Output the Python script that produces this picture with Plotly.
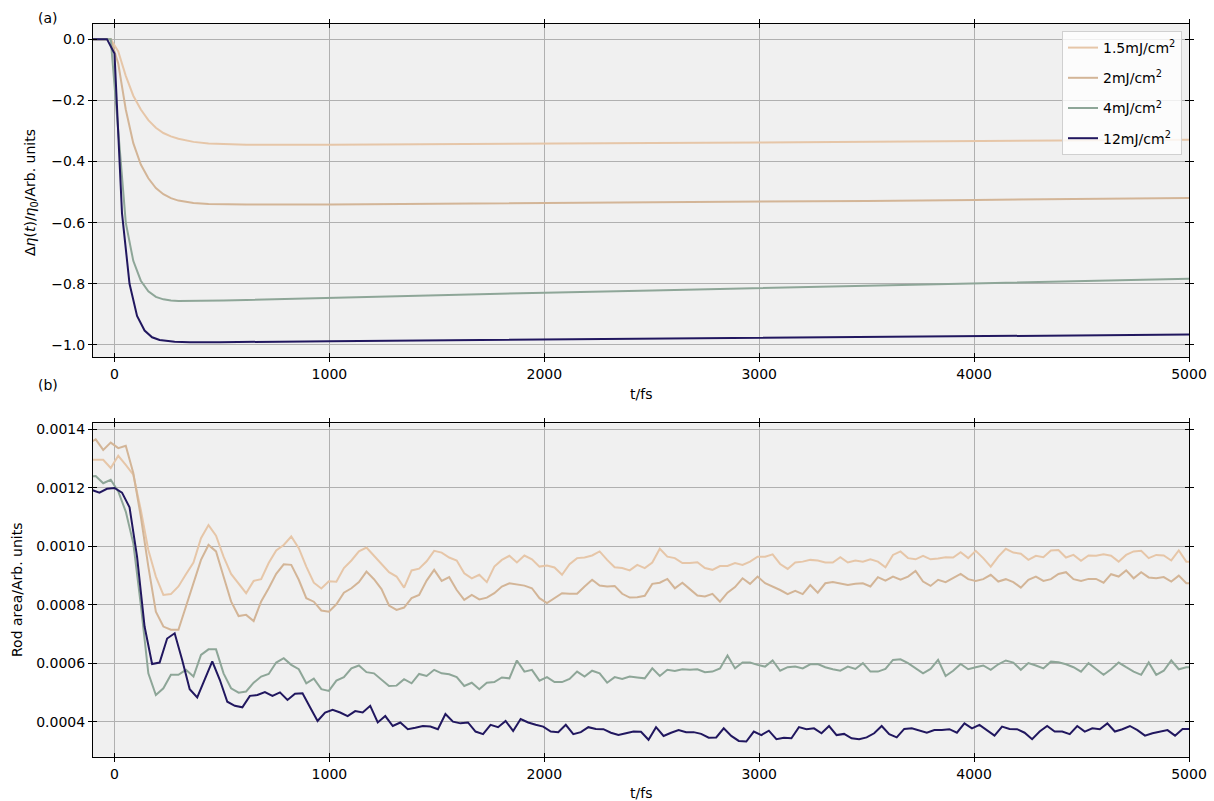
import numpy as np
import plotly.graph_objects as go

# ---------------- panel (a): relative change of eta ----------------
# 12 mJ/cm^2 sampled on the 35 fs grid, the other fluences on the half-shifted grid
t_a12 = [-105, -70, -35, 0, 35, 70, 105, 140, 175, 210, 245, 280, 350, 490,
         1000, 2000, 3000, 4000, 5005]
eta_12 = [0, 0, 0, -0.047, -0.57, -0.80, -0.905, -0.953, -0.975, -0.984, -0.988,
          -0.990, -0.991, -0.991, -0.988, -0.983, -0.977, -0.972, -0.966]

t_a = [-122.5, -87.5, -52.5, -17.5, 17.5, 52.5, 87.5, 122.5, 157.5, 192.5, 227.5,
       262.5, 297.5, 332.5, 367.5, 437.5, 507.5, 612.5, 1002.5, 1502.5, 2002.5,
       2502.5, 3002.5, 3502.5, 4002.5, 4502.5, 5022.5]
eta_15 = [0, 0, 0, 0, -0.04, -0.12, -0.185, -0.23, -0.265, -0.29, -0.307, -0.318,
          -0.326, -0.332, -0.336, -0.341, -0.343, -0.345, -0.345, -0.344, -0.342,
          -0.340, -0.338, -0.336, -0.333, -0.331, -0.329]
eta_2 = [0, 0, 0, 0, -0.08, -0.23, -0.34, -0.41, -0.455, -0.487, -0.507, -0.52,
         -0.528, -0.533, -0.536, -0.539, -0.54, -0.541, -0.541, -0.539, -0.537,
         -0.535, -0.532, -0.529, -0.526, -0.523, -0.519]
eta_4 = [0, 0, 0, 0, -0.30, -0.60, -0.725, -0.79, -0.825, -0.843, -0.851, -0.855,
         -0.856, -0.856, -0.856, -0.856, -0.855, -0.853, -0.846, -0.838, -0.829,
         -0.822, -0.814, -0.807, -0.799, -0.792, -0.783]

# ---------------- panel (b): rod area (values in units of 1e-4) ----------------
t_b12 = np.arange(-3, 144) * 35.0          # frames every 35 fs
t_b = np.arange(-4, 144) * 35.0 + 17.5     # half-frame shifted sampling

area_12 = [
    11.92, 11.83, 11.96, 11.99, 11.83, 11.33, 9.64, 7.25, 5.97, 6.02, 6.84, 7.02, 6.11,
    5.11, 4.83, 5.45, 6.06, 5.43, 4.68, 4.54, 4.49, 4.88, 4.91, 5.01, 4.88, 5.00,
    4.74, 4.95, 4.97, 4.49, 4.02, 4.31, 4.40, 4.31, 4.19, 4.36, 4.31, 4.54, 3.97, 4.19,
    3.85, 3.97, 3.74, 3.79, 3.85, 3.83, 3.74, 4.26, 4.00, 3.94,
    3.97, 3.66, 3.57, 3.89, 3.81, 4.02, 3.68, 4.09, 3.97, 3.89, 3.83, 3.66, 3.64, 3.89,
    3.57, 3.64, 3.81, 3.75, 3.74, 3.62, 3.54, 3.60, 3.66, 3.65, 3.38,
    3.81, 3.51, 3.62, 3.71, 3.64, 3.64, 3.58, 3.45, 3.46, 3.77, 3.51, 3.34, 3.32, 3.66,
    3.54, 3.69, 3.40, 3.45, 3.43, 3.81, 3.74, 3.77, 3.60, 3.85,
    3.54, 3.58, 3.43, 3.40, 3.46, 3.60, 3.85, 3.57, 3.46, 3.75, 3.77, 3.69, 3.62, 3.71,
    3.71, 3.74, 3.62, 3.94, 3.77, 3.89, 3.71, 3.52, 3.83, 3.75, 3.74,
    3.62, 3.40, 3.66, 3.85, 3.66, 3.66, 3.57, 3.85, 3.66, 3.77, 3.74, 3.94, 3.66, 3.74,
    3.85, 3.71, 3.52, 3.60, 3.66, 3.71, 3.52, 3.75, 3.75]

area_4 = [
    12.38, 12.40, 12.15, 12.27, 11.87, 11.18, 10.10, 7.99, 5.65, 4.91,
    5.14, 5.60, 5.60, 5.77, 5.54, 6.28, 6.47, 6.47, 5.65, 5.14, 4.99, 5.03, 5.33, 5.54,
    5.63, 6.02,
    6.17, 5.94, 5.79, 5.31, 5.47, 5.11, 5.05, 5.40, 5.52, 5.82, 5.92, 5.69, 5.65, 5.43,
    5.22, 5.23, 5.45, 5.31, 5.63, 5.56, 5.77, 5.65, 5.62, 5.52,
    5.22, 5.33, 5.11, 5.33, 5.35, 5.51, 5.48, 6.09, 5.71, 5.77, 5.40, 5.52, 5.35, 5.35,
    5.46, 5.71, 5.54, 5.74, 5.65, 5.33, 5.52, 5.46, 5.54, 5.51, 5.48,
    5.82, 5.56, 5.77, 5.73, 5.79, 5.77, 5.79, 5.69, 5.71, 5.82, 6.26, 5.82, 6.02, 6.02,
    5.94, 5.88, 6.09, 5.74, 5.86, 5.88, 5.82, 5.96, 5.97, 5.86, 5.79,
    5.74, 5.88, 5.80, 6.00, 5.71, 5.71, 5.80, 6.11, 6.13, 6.00, 5.82, 5.65, 5.80, 6.11,
    5.56, 5.74, 5.97, 5.79, 5.86, 5.92, 5.77, 5.96, 6.09, 6.02,
    5.77, 6.00, 5.92, 5.82, 6.05, 6.03, 5.96, 5.86, 5.71, 6.00, 5.80, 5.60, 5.79, 6.02,
    5.86, 5.71, 5.60, 6.02, 5.60, 5.74, 6.09, 5.79, 5.86, 5.86]

area_15 = [
    12.95, 12.95, 12.95, 12.67, 13.09, 12.78, 12.44, 11.24, 9.87, 8.96,
    8.33, 8.36, 8.62, 9.04, 9.44, 10.27, 10.72, 10.36, 9.64, 9.05, 8.73, 8.39, 8.81,
    8.87, 9.42, 9.85,
    10.04, 10.33, 9.93, 9.30, 8.75, 8.55, 8.80, 8.78, 9.25, 9.51, 9.82, 9.95, 9.67, 9.39,
    9.11, 8.96, 8.58, 9.17, 9.23, 9.48, 9.84, 9.78, 9.61, 9.51,
    9.07, 8.90, 9.02, 8.77, 9.30, 9.53, 9.67, 9.44, 9.68, 9.55, 9.30, 9.34, 9.27, 9.02,
    9.38, 9.59, 9.61, 9.68, 9.82, 9.53, 9.28, 9.25, 9.17, 9.36, 9.25,
    9.44, 9.91, 9.64, 9.59, 9.42, 9.42, 9.45, 9.25, 9.19, 9.32, 9.32, 9.42, 9.36, 9.47,
    9.64, 9.64, 9.72, 9.39, 9.22, 9.44, 9.47, 9.53, 9.51, 9.44, 9.44,
    9.62, 9.44, 9.51, 9.47, 9.55, 9.47, 9.28, 9.70, 9.82, 9.59, 9.55, 9.67, 9.55, 9.58,
    9.62, 9.61, 9.79, 9.59, 9.84, 9.59, 9.30, 9.64, 9.91, 9.78,
    9.74, 9.53, 9.67, 9.62, 9.85, 9.87, 9.61, 9.70, 9.50, 9.68, 9.67, 9.72, 9.67, 9.47,
    9.70, 9.82, 9.84, 9.59, 9.70, 9.68, 9.51, 9.85, 9.47, 9.47]

area_2 = [
    13.50, 13.65, 13.29, 13.54, 13.35, 13.43, 12.50, 11.01, 9.30, 7.76,
    7.25, 7.14, 7.14, 7.93, 8.73, 9.53, 10.04, 9.82, 8.96, 8.11, 7.61, 7.65, 7.44, 8.11,
    8.56, 9.05,
    9.38, 9.36, 8.85, 8.22, 8.10, 7.80, 7.76, 8.01, 8.41, 8.56, 8.77, 9.13, 8.87, 8.53,
    7.97, 7.82, 7.90, 8.22, 8.33, 8.82, 9.19, 8.81, 8.94, 8.50,
    8.16, 8.33, 8.18, 8.24, 8.39, 8.62, 8.73, 8.68, 8.65, 8.56, 8.22, 8.05, 8.22, 8.39,
    8.37, 8.37, 8.62, 8.85, 8.65, 8.62, 8.64, 8.37, 8.24, 8.25, 8.30,
    8.71, 8.75, 8.88, 8.56, 8.75, 8.53, 8.31, 8.28, 8.37, 8.10, 8.41, 8.60, 8.90, 8.71,
    8.96, 8.73, 8.62, 8.50, 8.36, 8.47, 8.36, 8.67, 8.41, 8.73, 8.77,
    8.73, 8.67, 8.71, 8.73, 8.62, 8.94, 8.82, 8.96, 8.85, 8.96, 9.15, 8.79, 8.64, 8.85,
    8.77, 8.90, 9.05, 8.87, 8.81, 8.87, 9.02, 8.79, 8.87, 8.77,
    8.58, 8.85, 8.96, 8.81, 8.87, 9.05, 9.11, 8.87, 8.81, 8.88, 8.88, 8.75, 9.04, 8.96,
    9.17, 8.90, 9.11, 8.93, 8.90, 8.94, 8.79, 8.99, 8.73, 8.73]

labels = ["1.5mJ/cm<sup>2</sup>", "2mJ/cm<sup>2</sup>", "4mJ/cm<sup>2</sup>", "12mJ/cm<sup>2</sup>"]
colors = ["#e6c6a8", "#d3b597", "#8ea698", "#21175f"]

FONT = "DejaVu Sans"
FS = 14
SCALE = 1e-4

panel_a = [(t_a, eta_15), (t_a, eta_2), (t_a, eta_4), (t_a12, eta_12)]
panel_b = [(t_b, area_15), (t_b, area_2), (t_b, area_4), (t_b12, area_12)]

fig = go.Figure()
for i, (tx, vy) in enumerate(panel_a):
    fig.add_trace(go.Scatter(x=tx, y=vy, mode="lines", name=labels[i],
                             legendgroup=f"g{i}",
                             line=dict(color=colors[i], width=2),
                             xaxis="x", yaxis="y"))
for i, (tx, vy) in enumerate(panel_b):
    fig.add_trace(go.Scatter(x=tx, y=np.array(vy) * SCALE, mode="lines",
                             showlegend=False, line=dict(color=colors[i], width=2),
                             xaxis="x2", yaxis="y2"))
# empty traces that carry the inward tick overlays
fig.add_trace(go.Scatter(x=[None], y=[None], xaxis="x3", yaxis="y3",
                         showlegend=False, hoverinfo="skip"))
fig.add_trace(go.Scatter(x=[None], y=[None], xaxis="x4", yaxis="y4",
                         showlegend=False, hoverinfo="skip"))

XDOM = [93 / 1214, 1189 / 1214]
YDOM_A = [1 - 357 / 801, 1 - 24 / 801]
YDOM_B = [1 - 756.7 / 801, 1 - 423.3 / 801]
XRANGE = [-100, 5000]
YRANGE_A = [-1.0395, 0.0495]
YRANGE_B = [0.00028, 0.00142]
xticks = [0, 1000, 2000, 3000, 4000, 5000]
yticks_a = [-1.0, -0.8, -0.6, -0.4, -0.2, 0.0]
yticks_b = [0.0004, 0.0006, 0.0008, 0.0010, 0.0012, 0.0014]

base = dict(showline=True, linecolor="black", linewidth=1, mirror="allticks",
            ticks="outside", ticklen=4, tickwidth=1, tickcolor="black",
            showgrid=True, gridcolor="#b0b0b0", gridwidth=1, zeroline=False,
            automargin=False,
            tickfont=dict(family=FONT, size=FS, color="black"))
inner = dict(showline=False, mirror="allticks", ticks="inside", ticklen=4,
             tickwidth=1, tickcolor="black", showgrid=False, zeroline=False,
             showticklabels=False, automargin=False)

fig.update_layout(
    width=1214, height=801,
    margin=dict(l=0, r=0, t=0, b=0, autoexpand=False),
    paper_bgcolor="white", plot_bgcolor="#f0f0f0",
    font=dict(family=FONT, size=FS, color="black"),
    xaxis=dict(domain=XDOM, anchor="y", range=XRANGE, tickvals=xticks, tickformat="d", **base),
    yaxis=dict(domain=YDOM_A, anchor="x", range=YRANGE_A, tickvals=yticks_a, tickformat=".1f", **base),
    xaxis2=dict(domain=XDOM, anchor="y2", range=XRANGE, tickvals=xticks, tickformat="d", **base),
    yaxis2=dict(domain=YDOM_B, anchor="x2", range=YRANGE_B, tickvals=yticks_b, tickformat=".4f", **base),
    xaxis3=dict(overlaying="x", anchor="y3", range=XRANGE, tickvals=xticks, **inner),
    yaxis3=dict(overlaying="y", anchor="x3", range=YRANGE_A, tickvals=yticks_a, **inner),
    xaxis4=dict(overlaying="x2", anchor="y4", range=XRANGE, tickvals=xticks, **inner),
    yaxis4=dict(overlaying="y2", anchor="x4", range=YRANGE_B, tickvals=yticks_b, **inner),
    legend=dict(x=1182 / 1214, y=1 - 31 / 801, xanchor="right", yanchor="top",
                bgcolor="rgba(255,255,255,0.8)", bordercolor="#d0d0d0", borderwidth=1,
                font=dict(family=FONT, size=FS), tracegroupgap=9, itemwidth=30),
    showlegend=True,
)

ann = dict(xref="paper", yref="paper", showarrow=False, font=dict(family=FONT, size=FS, color="black"))
fig.add_annotation(text="(a)", x=48 / 1214, y=1 - 18 / 801, xanchor="center", yanchor="middle", **ann)
fig.add_annotation(text="(b)", x=48 / 1214, y=1 - 385 / 801, xanchor="center", yanchor="middle", **ann)
fig.add_annotation(text="t/fs", x=641 / 1214, y=1 - 394 / 801, xanchor="center", yanchor="middle", **ann)
fig.add_annotation(text="t/fs", x=641 / 1214, y=1 - 793 / 801, xanchor="center", yanchor="middle", **ann)
fig.add_annotation(text="Δ<i>η</i>(<i>t</i>)/<i>η</i><sub>0</sub>/Arb. units", x=31 / 1214,
                   y=1 - 193 / 801, textangle=-90, xanchor="center", yanchor="middle", **ann)
fig.add_annotation(text="Rod area/Arb. units", x=17 / 1214, y=1 - 590 / 801, textangle=-90,
                   xanchor="center", yanchor="middle", **ann)

fig.write_html("out.html")
